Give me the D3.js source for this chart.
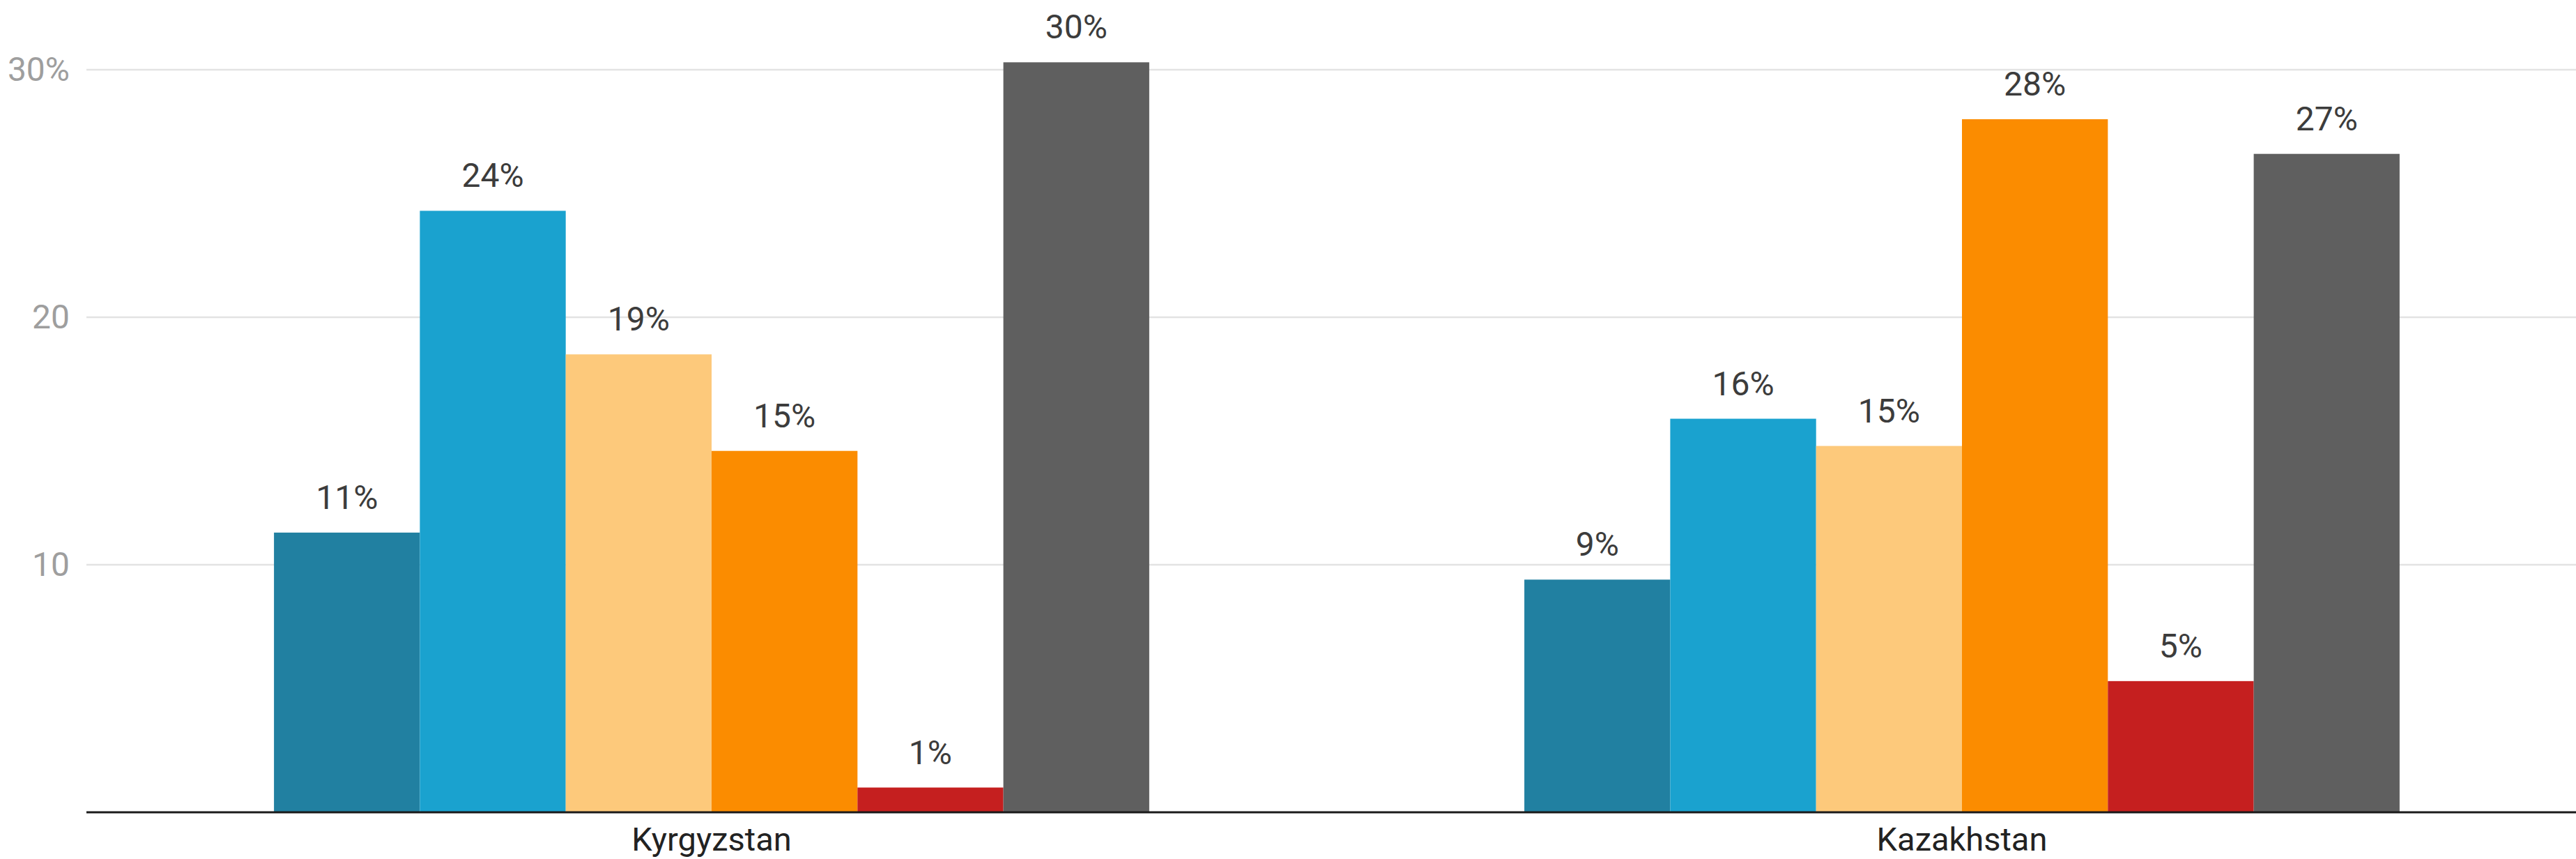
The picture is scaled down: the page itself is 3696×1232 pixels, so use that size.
<!DOCTYPE html>
<html>
<head>
<meta charset="utf-8">
<script src="https://cdn.jsdelivr.net/npm/d3@7"></script>
<style>
  html, body { margin: 0; padding: 0; background: #fff; }
  svg { display: block; }
  text { font-family: Roboto, "Noto Sans", sans-serif; }
</style>
</head>
<body>
<svg id="chart" width="3696" height="1232"></svg>
<script>
// ---- data ----
const categories = ["Kyrgyzstan", "Kazakhstan"];
const seriesNames = ["s1", "s2", "s3", "s4", "s5", "s6"];
const kyrgyzstanValues = [11.3, 24.3, 18.5, 14.6, 1.0, 30.3];
const kazakhstanValues = [9.4, 15.9, 14.8, 28.0, 5.3, 26.6];
const valueLabelsKyrgyzstan = ["11%", "24%", "19%", "15%", "1%", "30%"];
const valueLabelsKazakhstan = ["9%", "16%", "15%", "28%", "5%", "27%"];
const yTicks = [10, 20, 30];
const yTickLabels = ["10", "20", "30%"];
const seriesColors = ["#2180A1", "#1AA2CF", "#FDC97B", "#FB8C00", "#C51F1F", "#5F5F5F"];

const rows = [
  { cat: categories[0], values: kyrgyzstanValues, labels: valueLabelsKyrgyzstan },
  { cat: categories[1], values: kazakhstanValues, labels: valueLabelsKazakhstan }
];

// ---- layout ----
const W = 3696, H = 1232;
const plotLeft = 124, plotRight = 3696;
const yBase = 1165, yTop = 100;

const svg = d3.select("#chart");

const x0 = d3.scaleBand().domain(categories).range([plotLeft, 3712])
  .paddingInner(0.3).paddingOuter(0.15);
const x1 = d3.scaleBand().domain(seriesNames).range([0, x0.bandwidth()]).padding(0);
const y = d3.scaleLinear().domain([0, 30]).range([yBase, yTop]);

// gridlines
svg.append("g").selectAll("line").data(yTicks).join("line")
  .attr("x1", plotLeft).attr("x2", plotRight)
  .attr("y1", d => y(d)).attr("y2", d => y(d))
  .attr("stroke", "#e3e3e3").attr("stroke-width", 2.5);

// y tick labels
svg.append("g").selectAll("text").data(yTicks).join("text")
  .attr("x", 100).attr("y", d => y(d))
  .attr("dy", "0.33em")
  .attr("text-anchor", "end")
  .attr("font-size", 48)
  .attr("fill", "#9e9e9e")
  .text((d, i) => yTickLabels[i]);

// bars
const groups = svg.append("g").selectAll("g").data(rows).join("g")
  .attr("transform", d => `translate(${x0(d.cat)},0)`);

groups.selectAll("rect").data(d => d.values.map((v, i) => ({ v, i }))).join("rect")
  .attr("x", d => x1(seriesNames[d.i]))
  .attr("width", x1.bandwidth())
  .attr("y", d => y(d.v))
  .attr("height", d => yBase - y(d.v))
  .attr("fill", d => seriesColors[d.i]);

groups.selectAll("text.val").data(d => d.values.map((v, i) => ({ v, i, label: d.labels[i] }))).join("text")
  .attr("class", "val")
  .attr("x", d => x1(seriesNames[d.i]) + x1.bandwidth() / 2)
  .attr("y", d => y(d.v) - 34)
  .attr("text-anchor", "middle")
  .attr("font-size", 48)
  .attr("fill", "#3c3c3c")
  .text(d => d.label);

// baseline axis
svg.append("line")
  .attr("x1", plotLeft).attr("x2", plotRight)
  .attr("y1", yBase).attr("y2", yBase)
  .attr("stroke", "#1a1a1a").attr("stroke-width", 3);

// category labels
svg.append("g").selectAll("text").data(categories).join("text")
  .attr("x", d => x0(d) + x0.bandwidth() / 2)
  .attr("y", 1220)
  .attr("text-anchor", "middle")
  .attr("font-size", 47)
  .attr("fill", "#222")
  .text(d => d);
</script>
</body>
</html>
